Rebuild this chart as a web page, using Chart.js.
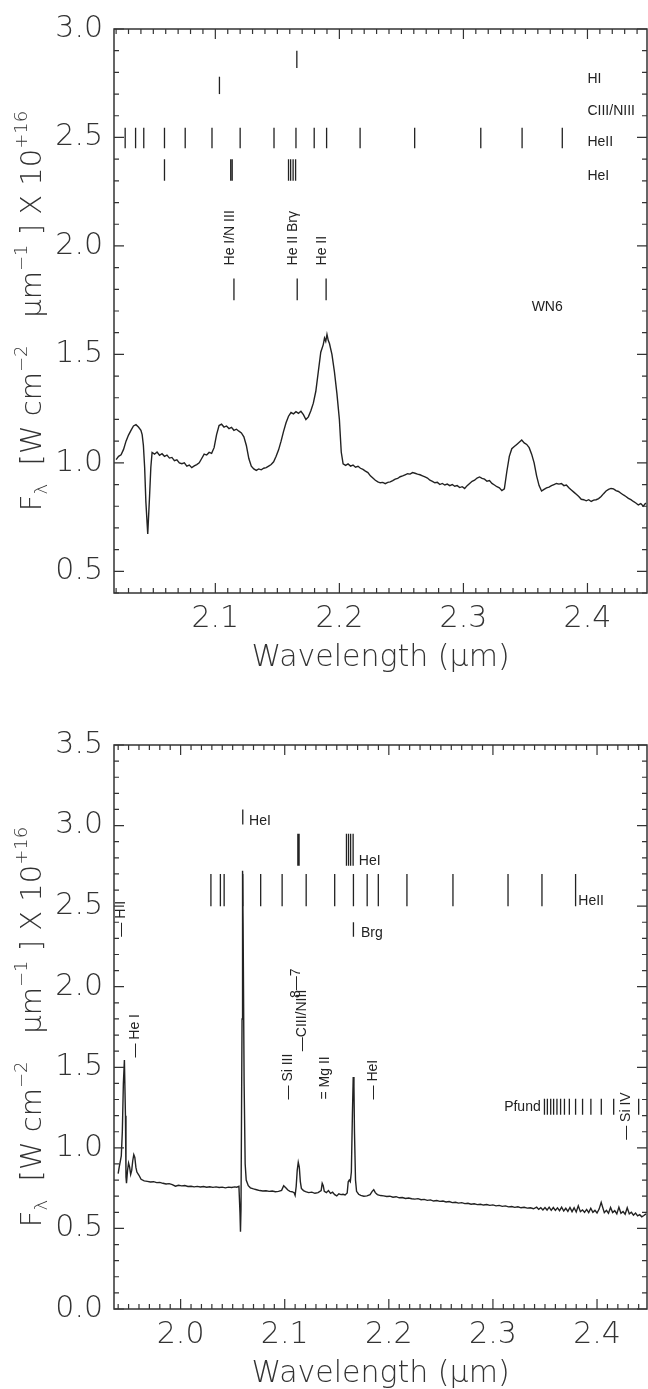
<!DOCTYPE html>
<html>
<head>
<meta charset="utf-8">
<script src="https://cdn.jsdelivr.net/npm/chart.js@4.4.1/dist/chart.umd.min.js"></script>
<style>
  html, body { margin: 0; padding: 0; background: #fff; }
  body { width: 648px; height: 1389px; position: relative; overflow: hidden; }
  canvas { position: absolute; left: 0; }
  #topChart { top: 0; }
  #botChart { top: 716px; }
</style>
</head>
<body>
<canvas id="topChart" width="648" height="673"></canvas>
<canvas id="botChart" width="648" height="673"></canvas>
<script>
"use strict";

// ---- top panel (WN6) spectrum ----
const TOP_WAVE = [
  2.020, 2.022, 2.024, 2.026, 2.028, 2.030, 2.032, 2.034, 2.036, 2.038, 2.040, 2.041, 2.042, 2.043, 2.044, 2.0455,
  2.047, 2.048, 2.049, 2.051, 2.053, 2.055, 2.057, 2.059, 2.061, 2.063, 2.065, 2.067, 2.069, 2.071, 2.073, 2.075,
  2.077, 2.079, 2.081, 2.083, 2.085, 2.087, 2.089, 2.091, 2.093, 2.095, 2.097, 2.099, 2.101, 2.103, 2.105, 2.107,
  2.109, 2.111, 2.113, 2.115, 2.117, 2.119, 2.121, 2.123, 2.125, 2.127, 2.129, 2.131, 2.133, 2.135, 2.137, 2.139,
  2.141, 2.143, 2.145, 2.147, 2.149, 2.151, 2.153, 2.155, 2.157, 2.159, 2.161, 2.163, 2.165, 2.167, 2.169, 2.171,
  2.173, 2.175, 2.177, 2.179, 2.181, 2.183, 2.185, 2.187, 2.188, 2.189, 2.190, 2.191, 2.192, 2.194, 2.196, 2.198,
  2.200, 2.2015, 2.203, 2.205, 2.207, 2.209, 2.211, 2.213, 2.215, 2.217, 2.219, 2.221, 2.223, 2.225, 2.227, 2.229,
  2.231, 2.233, 2.235, 2.237, 2.239, 2.241, 2.243, 2.245, 2.247, 2.249, 2.251, 2.253, 2.255, 2.257, 2.259, 2.261,
  2.263, 2.265, 2.267, 2.269, 2.271, 2.273, 2.275, 2.277, 2.279, 2.281, 2.283, 2.285, 2.287, 2.289, 2.291, 2.293,
  2.295, 2.297, 2.299, 2.301, 2.303, 2.305, 2.307, 2.309, 2.311, 2.313, 2.315, 2.317, 2.319, 2.321, 2.323, 2.325,
  2.327, 2.329, 2.331, 2.333, 2.335, 2.337, 2.339, 2.341, 2.343, 2.345, 2.347, 2.349, 2.351, 2.353, 2.355, 2.357,
  2.359, 2.361, 2.363, 2.365, 2.367, 2.369, 2.371, 2.373, 2.375, 2.377, 2.379, 2.381, 2.383, 2.385, 2.387, 2.389,
  2.391, 2.393, 2.395, 2.397, 2.399, 2.401, 2.403, 2.405, 2.407, 2.409, 2.411, 2.413, 2.415, 2.417, 2.419, 2.421,
  2.423, 2.425, 2.427, 2.429, 2.431, 2.433, 2.435, 2.437, 2.439, 2.441, 2.443, 2.445, 2.447
];
const TOP_FLUX = [
  1.015, 1.030, 1.037, 1.062, 1.100, 1.128, 1.150, 1.170, 1.176, 1.165, 1.150, 1.130, 1.080, 0.980, 0.820, 0.672,
  0.850, 0.980, 1.048, 1.040, 1.050, 1.035, 1.042, 1.030, 1.036, 1.022, 1.025, 1.010, 1.014, 1.000, 0.996, 1.000,
  0.985, 0.990, 0.978, 0.986, 0.992, 1.000, 1.020, 1.040, 1.036, 1.048, 1.044, 1.070, 1.130, 1.172, 1.178, 1.165,
  1.170, 1.158, 1.164, 1.150, 1.155, 1.146, 1.138, 1.120, 1.080, 1.020, 0.985, 0.972, 0.965, 0.972, 0.968, 0.975,
  0.978, 0.985, 0.992, 1.005, 1.030, 1.060, 1.100, 1.145, 1.185, 1.215, 1.232, 1.226, 1.236, 1.228, 1.238, 1.222,
  1.200, 1.212, 1.240, 1.275, 1.330, 1.420, 1.510, 1.545, 1.575, 1.560, 1.592, 1.565, 1.550, 1.500, 1.420, 1.320,
  1.200, 1.050, 0.995, 0.988, 0.995, 0.985, 0.990, 0.980, 0.984, 0.975, 0.970, 0.962, 0.955, 0.940, 0.930, 0.920,
  0.912, 0.908, 0.910, 0.904, 0.910, 0.912, 0.918, 0.925, 0.928, 0.936, 0.940, 0.945, 0.950, 0.948, 0.955, 0.952,
  0.948, 0.945, 0.940, 0.935, 0.930, 0.920, 0.915, 0.908, 0.910, 0.900, 0.905, 0.898, 0.902, 0.895, 0.900, 0.892,
  0.895, 0.886, 0.890, 0.882, 0.895, 0.905, 0.915, 0.920, 0.930, 0.935, 0.928, 0.925, 0.915, 0.918, 0.905, 0.898,
  0.890, 0.885, 0.872, 0.880, 0.960, 1.030, 1.065, 1.075, 1.085, 1.095, 1.105, 1.092, 1.085, 1.070, 1.040, 1.000,
  0.940, 0.895, 0.870, 0.878, 0.885, 0.888, 0.895, 0.900, 0.905, 0.902, 0.905, 0.895, 0.898, 0.885, 0.875, 0.865,
  0.855, 0.845, 0.832, 0.830, 0.825, 0.830, 0.822, 0.828, 0.830, 0.835, 0.845, 0.858, 0.870, 0.878, 0.882, 0.880,
  0.872, 0.868, 0.860, 0.852, 0.845, 0.836, 0.830, 0.822, 0.815, 0.806, 0.812, 0.800, 0.815
];

// top panel line identifications (wavelength in micron; tick spans in flux units)
const TOP_HI_LINES    = [2.1657];
const TOP_CN_LINES    = [2.1033];
const TOP_HEII_LINES  = [2.0273, 2.0357, 2.0423, 2.0590, 2.0757, 2.0973, 2.1200, 2.1473, 2.1650,
                         2.1797, 2.1897, 2.2167, 2.2607, 2.3140, 2.3473, 2.3797];
const TOP_HEI_LINES   = [2.0590, 2.1124, 2.1136, 2.1590, 2.1607, 2.1627, 2.1647];
const TOP_ID_LINES    = [2.1150, 2.1660, 2.1893];
const TOP_HI_SPAN     = [2.82, 2.90];
const TOP_CN_SPAN     = [2.70, 2.78];
const TOP_HEII_SPAN   = [2.45, 2.545];
const TOP_HEI_SPAN    = [2.30, 2.40];
const TOP_ID_SPAN     = [1.75, 1.85];

const TOP_TEXT       = ["HI", "CIII/NIII", "HeII", "HeI", "WN6"];
const TOP_TEXT_WAVE  = [2.400, 2.400, 2.400, 2.400, 2.3550];
const TOP_TEXT_FLUX  = [2.77, 2.62, 2.48, 2.32, 1.72];
const TOP_ROT_TEXT   = ["He I/N III", "He II Br\u03b3", "He II"];
const TOP_ROT_WAVE   = [2.1123, 2.1624, 2.1863];
const TOP_ROT_FLUX   = [1.91, 1.91, 1.91];

// ---- bottom panel spectrum ----
const BOT_WAVE = [
  1.940, 1.941, 1.942, 1.943, 1.944, 1.945, 1.946, 1.947, 1.9475, 1.948, 1.949, 1.950, 1.951, 1.952, 1.953, 1.954,
  1.955, 1.956, 1.957, 1.958, 1.960, 1.962, 1.965, 1.968, 1.971, 1.974, 1.977, 1.980, 1.983, 1.986, 1.989, 1.992,
  1.995, 1.998, 2.001, 2.004, 2.007, 2.010, 2.013, 2.016, 2.019, 2.022, 2.025, 2.028, 2.031, 2.034, 2.037, 2.040,
  2.043, 2.046, 2.049, 2.052, 2.054, 2.056, 2.057, 2.0575, 2.058, 2.059, 2.0595, 2.060, 2.061, 2.062, 2.063, 2.065,
  2.067, 2.070, 2.073, 2.076, 2.079, 2.082, 2.085, 2.088, 2.091, 2.094, 2.097, 2.099, 2.101, 2.103, 2.105, 2.107,
  2.109, 2.110, 2.111, 2.112, 2.113, 2.114, 2.115, 2.116, 2.118, 2.120, 2.123, 2.126, 2.129, 2.132, 2.135, 2.136,
  2.137, 2.138, 2.140, 2.142, 2.144, 2.146, 2.148, 2.150, 2.152, 2.154, 2.156, 2.158, 2.160, 2.161, 2.162, 2.163,
  2.164, 2.165, 2.1658, 2.1665, 2.167, 2.168, 2.169, 2.171, 2.173, 2.176, 2.179, 2.182, 2.184, 2.1855, 2.187, 2.189,
  2.192, 2.195, 2.198, 2.201, 2.204, 2.207, 2.210, 2.213, 2.216, 2.219, 2.222, 2.225, 2.228, 2.231, 2.234, 2.237,
  2.240, 2.243, 2.246, 2.249, 2.252, 2.255, 2.258, 2.261, 2.264, 2.267, 2.270, 2.273, 2.276, 2.279, 2.282, 2.285,
  2.288, 2.291, 2.294, 2.297, 2.300, 2.303, 2.306, 2.309, 2.312, 2.315, 2.318, 2.321, 2.324, 2.327, 2.330, 2.333,
  2.336, 2.339, 2.342, 2.344, 2.346, 2.348, 2.350, 2.352, 2.354, 2.356, 2.358, 2.360, 2.362, 2.364, 2.366, 2.368,
  2.370, 2.372, 2.374, 2.376, 2.378, 2.380, 2.382, 2.384, 2.386, 2.388, 2.390, 2.392, 2.394, 2.396, 2.398, 2.400,
  2.402, 2.404, 2.405, 2.407, 2.409, 2.411, 2.413, 2.415, 2.417, 2.419, 2.421, 2.423, 2.425, 2.427, 2.429, 2.431,
  2.433, 2.435, 2.437, 2.439, 2.441, 2.443, 2.445, 2.447
];
const BOT_FLUX = [
  0.840, 0.880, 0.915, 0.950, 1.100, 1.400, 1.545, 1.200, 0.820, 0.780, 0.860, 0.905, 0.880, 0.835, 0.860, 0.920,
  0.958, 0.940, 0.880, 0.850, 0.830, 0.805, 0.795, 0.792, 0.788, 0.790, 0.784, 0.786, 0.780, 0.776, 0.778, 0.772,
  0.762, 0.768, 0.764, 0.766, 0.760, 0.762, 0.758, 0.761, 0.757, 0.760, 0.756, 0.759, 0.755, 0.758, 0.754, 0.756,
  0.752, 0.756, 0.754, 0.758, 0.756, 0.762, 0.600, 0.480, 0.620, 1.800, 2.720, 2.400, 1.400, 0.900, 0.800, 0.765,
  0.752, 0.745, 0.740, 0.735, 0.732, 0.734, 0.730, 0.732, 0.728, 0.730, 0.736, 0.765, 0.752, 0.738, 0.730, 0.728,
  0.722, 0.705, 0.760, 0.860, 0.910, 0.880, 0.790, 0.748, 0.735, 0.728, 0.722, 0.725, 0.718, 0.722, 0.735, 0.780,
  0.765, 0.730, 0.722, 0.735, 0.718, 0.725, 0.710, 0.702, 0.715, 0.710, 0.712, 0.708, 0.720, 0.790, 0.800, 0.790,
  0.850, 1.200, 1.440, 1.380, 1.100, 0.800, 0.730, 0.712, 0.705, 0.700, 0.702, 0.710, 0.730, 0.740, 0.722, 0.710,
  0.704, 0.702, 0.698, 0.700, 0.694, 0.697, 0.690, 0.692, 0.686, 0.689, 0.684, 0.682, 0.685, 0.678, 0.680, 0.674,
  0.677, 0.670, 0.673, 0.668, 0.670, 0.664, 0.667, 0.660, 0.662, 0.657, 0.660, 0.654, 0.656, 0.650, 0.653, 0.648,
  0.650, 0.645, 0.648, 0.643, 0.646, 0.640, 0.643, 0.637, 0.640, 0.634, 0.636, 0.631, 0.634, 0.628, 0.631, 0.626,
  0.628, 0.622, 0.632, 0.618, 0.628, 0.615, 0.630, 0.614, 0.632, 0.612, 0.630, 0.612, 0.628, 0.610, 0.632, 0.608,
  0.625, 0.606, 0.630, 0.604, 0.628, 0.602, 0.640, 0.604, 0.615, 0.600, 0.618, 0.598, 0.625, 0.600, 0.612, 0.596,
  0.620, 0.662, 0.640, 0.598, 0.612, 0.594, 0.630, 0.598, 0.610, 0.590, 0.632, 0.594, 0.605, 0.588, 0.628, 0.590,
  0.600, 0.582, 0.595, 0.578, 0.585, 0.572, 0.580, 0.590
];

const BOT_HEI_TOP_LINES = [2.0597];
const BOT_HEI_LINES     = [2.1126, 2.1138, 2.1593, 2.1613, 2.1633, 2.1657];
const BOT_HEII_LINES    = [2.0291, 2.0382, 2.0418, 2.0597, 2.0769, 2.0975, 2.1206, 2.1480, 2.1660,
                           2.1792, 2.1899, 2.2174, 2.2616, 2.3145, 2.3471, 2.3794];
const BOT_BRG_LINES     = [2.1660];
const BOT_PFUND_LINES   = [2.3495, 2.3523, 2.3555, 2.3583, 2.3615, 2.3650, 2.3687, 2.3734, 2.3794,
                           2.3861, 2.3941, 2.4041, 2.4160, 2.4400];
const BOT_HEI_TOP_SPAN  = [3.006, 3.10];
const BOT_HEI_SPAN      = [2.75, 2.95];
const BOT_HEII_SPAN     = [2.50, 2.70];
const BOT_BRG_SPAN      = [2.31, 2.40];
const BOT_PFUND_SPAN    = [1.205, 1.304];

const BOT_TEXT       = ["HeI", "HeI", "HeII", "Brg", "Pfund"];
const BOT_TEXT_WAVE  = [2.0657, 2.1712, 2.3820, 2.1732, 2.3459];
const BOT_TEXT_FLUX  = [3.03, 2.78, 2.53, 2.33, 1.254];
const BOT_ROT_TEXT   = ["\u2014 H I", "\u2014 He I", "\u2014 Si III", "8\u20147", "\u2014CIII/NIII", "= Mg II", "\u2014 HeI", "\u2014 Si IV"];
const BOT_ROT_WAVE   = [1.9424, 1.9563, 2.1034, 2.1110, 2.1167, 2.1393, 2.1852, 2.4280];
const BOT_ROT_FLUX   = [2.31, 1.56, 1.30, 1.93, 1.60, 1.30, 1.30, 1.05];

// axes
const TOP_X_RANGE = [2.0183, 2.448];
const TOP_Y_RANGE = [0.4, 3.0];
const TOP_X_TICKS = [2.1, 2.2, 2.3, 2.4];
const TOP_Y_TICKS = [0.5, 1.0, 1.5, 2.0, 2.5, 3.0];
const BOT_X_RANGE = [1.936, 2.448];
const BOT_Y_RANGE = [0.0, 3.5];
const BOT_X_TICKS = [2.0, 2.1, 2.2, 2.3, 2.4];
const BOT_Y_TICKS = [0.0, 0.5, 1.0, 1.5, 2.0, 2.5, 3.0, 3.5];

const INK = "#222";
const AXIS_FONT = "'DejaVu Sans', sans-serif";
const LABEL_FONT = "'Liberation Sans', Arial, sans-serif";

function specData(wave, flux) {
  return wave.map((w, i) => ({ x: w, y: flux[i] }));
}

// vertical identification ticks, separated by gaps
function markerData(waves, span) {
  const pts = [];
  waves.forEach(w => {
    pts.push({ x: w, y: span[0] }, { x: w, y: span[1] }, { x: w, y: null });
  });
  return pts;
}

function lineSet(data, width) {
  return {
    data,
    borderColor: INK,
    borderWidth: width,
    pointRadius: 0,
    tension: 0,
    spanGaps: false
  };
}

// frame with inward ticks on all four sides
const framePlugin = {
  id: "frame",
  afterDatasetsDraw(chart) {
    const { ctx, chartArea: a, scales } = chart;
    const xs = scales.x, ys = scales.y;
    ctx.save();
    ctx.strokeStyle = "#333";
    ctx.lineWidth = 1.5;
    ctx.strokeRect(a.left, a.top, a.right - a.left, a.bottom - a.top);
    ctx.lineWidth = 1.2;
    ctx.beginPath();
    for (let i = Math.ceil(xs.min * 100); i <= Math.floor(xs.max * 100); i++) {
      const px = xs.getPixelForValue(i / 100);
      const len = i % 10 === 0 ? 10 : 5;
      ctx.moveTo(px, a.bottom); ctx.lineTo(px, a.bottom - len);
      ctx.moveTo(px, a.top);    ctx.lineTo(px, a.top + len);
    }
    for (let i = Math.ceil(ys.min * 10); i <= Math.floor(ys.max * 10); i++) {
      const py = ys.getPixelForValue(i / 10);
      const len = i % 5 === 0 ? 10 : 5;
      ctx.moveTo(a.left, py);  ctx.lineTo(a.left + len, py);
      ctx.moveTo(a.right, py); ctx.lineTo(a.right - len, py);
    }
    ctx.stroke();
    ctx.restore();
  }
};

// y-axis title with sub/superscripts, written bottom to top
const yTitlePlugin = {
  id: "ytitle",
  afterDraw(chart) {
    const { ctx, chartArea: a } = chart;
    const big = "200 29px " + AXIS_FONT, small = "200 18px " + AXIS_FONT;
    const segs = [
      ["F", big, 0], ["\u03bb", small, 6], ["  [W cm", big, 0], ["\u22122", small, -14],
      ["   ", big, 0], ["\u03bcm", big, 0], ["\u22121", small, -14],
      [" ] X 10", big, 0], ["+16", small, -14]
    ];
    ctx.save();
    let total = 0;
    segs.forEach(s => { ctx.font = s[1]; total += ctx.measureText(s[0]).width; });
    ctx.translate(41, (a.top + a.bottom) / 2);
    ctx.rotate(-Math.PI / 2);
    ctx.fillStyle = "#333";
    ctx.textBaseline = "alphabetic";
    let x = -total / 2;
    segs.forEach(s => {
      ctx.font = s[1];
      ctx.fillText(s[0], x, s[2]);
      x += ctx.measureText(s[0]).width;
    });
    ctx.restore();
  }
};

// line-identification labels
const labelPlugin = {
  id: "idlabels",
  afterDraw(chart, args, opts) {
    const { ctx } = chart;
    const xs = chart.scales.x, ys = chart.scales.y;
    ctx.save();
    ctx.fillStyle = INK;
    ctx.font = "14px " + LABEL_FONT;
    ctx.textBaseline = "middle";
    opts.text.forEach((t, i) => {
      ctx.textAlign = t === "Pfund" ? "right" : "left";
      ctx.fillText(t, xs.getPixelForValue(opts.wave[i]), ys.getPixelForValue(opts.flux[i]));
    });
    ctx.textAlign = "left";
    opts.rotText.forEach((t, i) => {
      ctx.save();
      ctx.translate(xs.getPixelForValue(opts.rotWave[i]), ys.getPixelForValue(opts.rotFlux[i]));
      ctx.rotate(-Math.PI / 2);
      ctx.fillText(t, 0, 0);
      ctx.restore();
    });
    ctx.restore();
  }
};

function makeChart(id, cfg) {
  const tickFont = { family: AXIS_FONT, size: 30, weight: "200" };
  return new Chart(document.getElementById(id), {
    type: "line",
    data: { datasets: cfg.datasets },
    options: {
      responsive: false,
      animation: false,
      layout: { padding: { top: 10, right: 1, left: 0, bottom: 0 } },
      plugins: {
        legend: { display: false },
        tooltip: { enabled: false },
        idlabels: cfg.labels
      },
      scales: {
        x: {
          type: "linear",
          min: cfg.xRange[0],
          max: cfg.xRange[1],
          afterBuildTicks: s => { s.ticks = cfg.xTicks.map(v => ({ value: v })); },
          afterFit: s => { s.height = 80; },
          grid: { display: false, drawTicks: false },
          border: { display: false },
          ticks: { font: tickFont, color: "#333", padding: 8, maxRotation: 0, autoSkip: false,
                   callback: v => v.toFixed(1) },
          title: { display: true, text: "Wavelength (\u03bcm)", color: "#333",
                   font: { family: AXIS_FONT, size: 30, weight: "200", lineHeight: 1.0 }, padding: 0 }
        },
        y: {
          type: "linear",
          min: cfg.yRange[0],
          max: cfg.yRange[1],
          afterBuildTicks: s => { s.ticks = cfg.yTicks.map(v => ({ value: v })); },
          afterFit: s => { s.width = 114; },
          grid: { display: false, drawTicks: false },
          border: { display: false },
          ticks: { font: tickFont, color: "#333", padding: 11, autoSkip: false,
                   callback: v => v.toFixed(1) }
        }
      }
    },
    plugins: [framePlugin, yTitlePlugin, labelPlugin]
  });
}

makeChart("topChart", {
  xRange: TOP_X_RANGE, yRange: TOP_Y_RANGE, xTicks: TOP_X_TICKS, yTicks: TOP_Y_TICKS,
  datasets: [
    lineSet(specData(TOP_WAVE, TOP_FLUX), 1.4),
    lineSet(markerData(TOP_HI_LINES, TOP_HI_SPAN), 1.3),
    lineSet(markerData(TOP_CN_LINES, TOP_CN_SPAN), 1.3),
    lineSet(markerData(TOP_HEII_LINES, TOP_HEII_SPAN), 1.3),
    lineSet(markerData(TOP_HEI_LINES, TOP_HEI_SPAN), 1.3),
    lineSet(markerData(TOP_ID_LINES, TOP_ID_SPAN), 1.3)
  ],
  labels: { text: TOP_TEXT, wave: TOP_TEXT_WAVE, flux: TOP_TEXT_FLUX,
            rotText: TOP_ROT_TEXT, rotWave: TOP_ROT_WAVE, rotFlux: TOP_ROT_FLUX }
});

makeChart("botChart", {
  xRange: BOT_X_RANGE, yRange: BOT_Y_RANGE, xTicks: BOT_X_TICKS, yTicks: BOT_Y_TICKS,
  datasets: [
    lineSet(specData(BOT_WAVE, BOT_FLUX), 1.4),
    lineSet(markerData(BOT_HEI_TOP_LINES, BOT_HEI_TOP_SPAN), 1.3),
    lineSet(markerData(BOT_HEI_LINES, BOT_HEI_SPAN), 1.3),
    lineSet(markerData(BOT_HEII_LINES, BOT_HEII_SPAN), 1.3),
    lineSet(markerData(BOT_BRG_LINES, BOT_BRG_SPAN), 1.3),
    lineSet(markerData(BOT_PFUND_LINES, BOT_PFUND_SPAN), 1.3)
  ],
  labels: { text: BOT_TEXT, wave: BOT_TEXT_WAVE, flux: BOT_TEXT_FLUX,
            rotText: BOT_ROT_TEXT, rotWave: BOT_ROT_WAVE, rotFlux: BOT_ROT_FLUX }
});
</script>
</body>
</html>
